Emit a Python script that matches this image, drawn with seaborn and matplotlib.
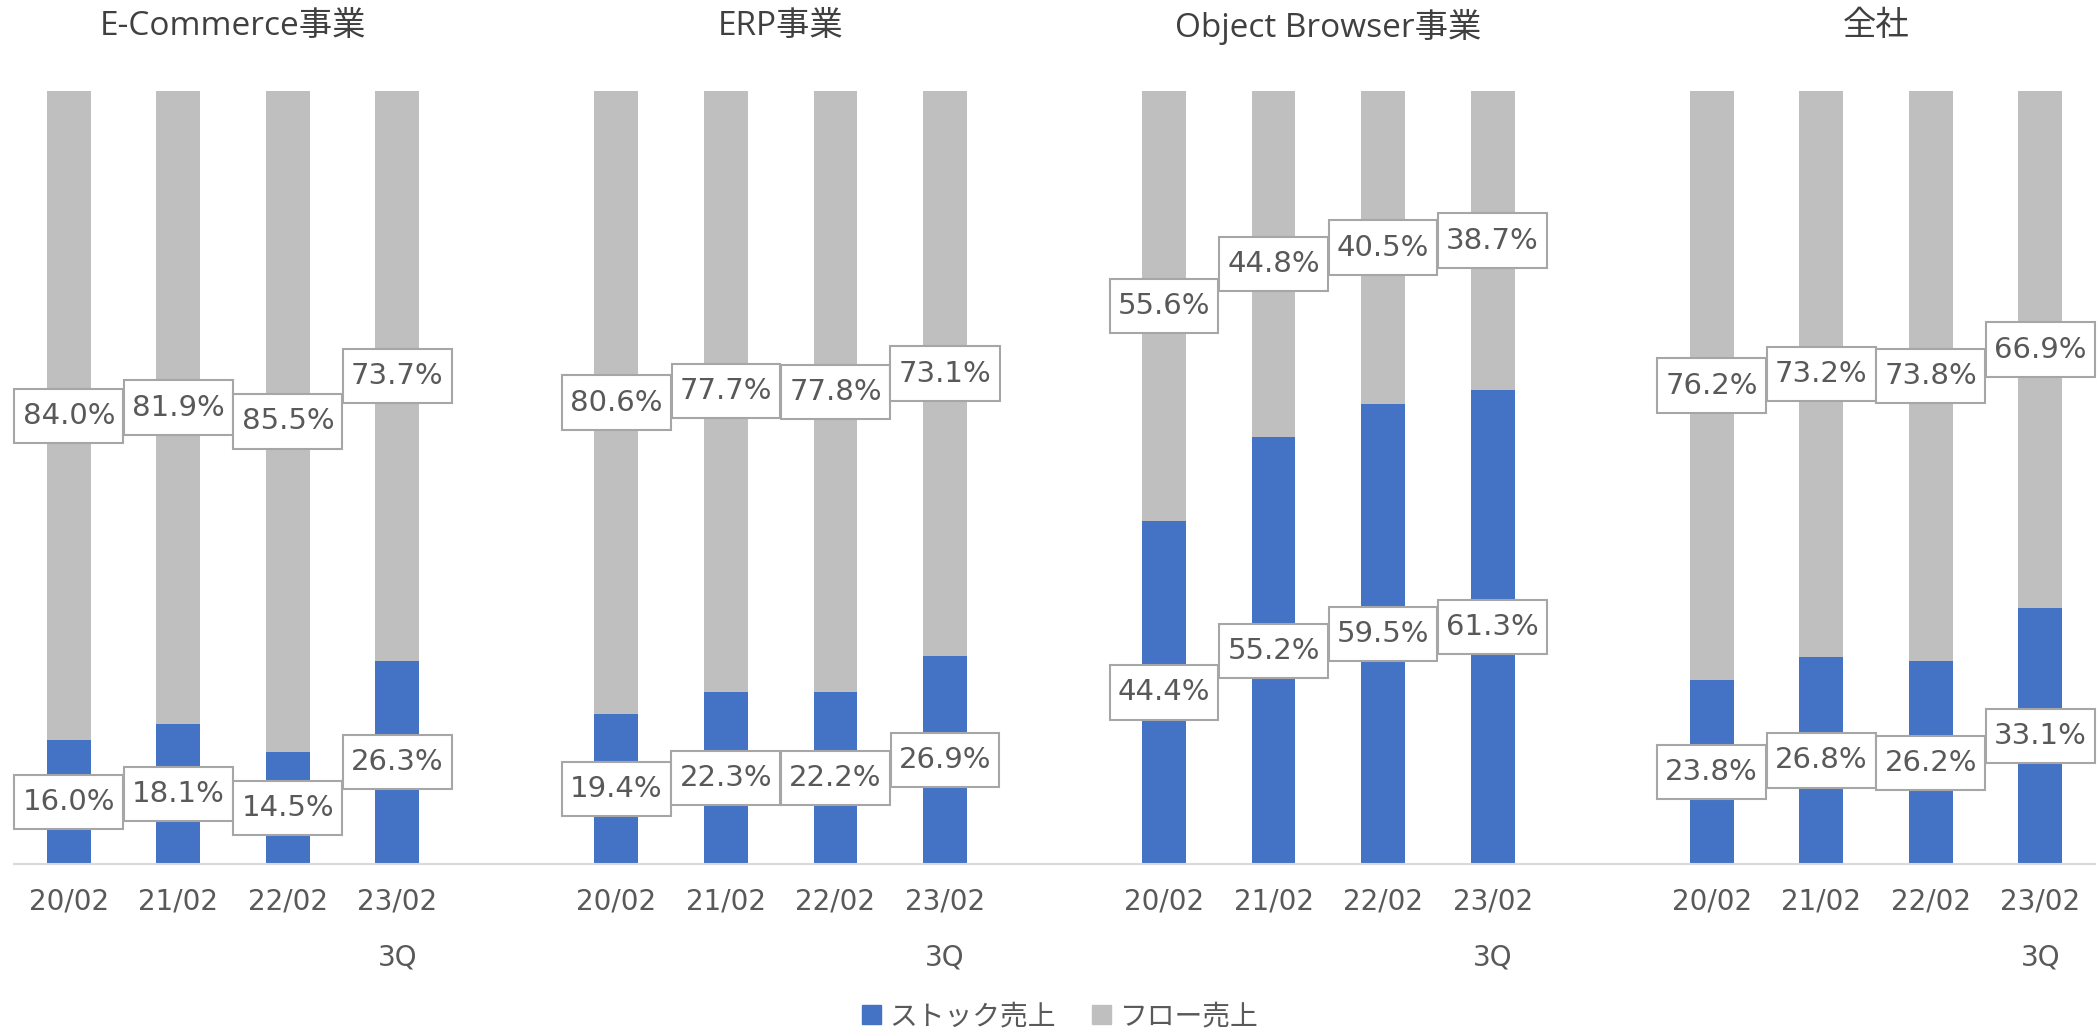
import matplotlib
matplotlib.use("Agg")
import matplotlib.pyplot as plt
import matplotlib.transforms as mtransforms
from matplotlib.patches import Patch
from matplotlib.path import Path
import seaborn as sns

# segment titles and periods
segments = ["E-Commerce事業", "ERP事業", "Object Browser事業", "全社"]
periods = ["20/02", "21/02", "22/02", "23/02\n3Q"]

# stock / flow revenue share (%)
ec_stock = [16.0, 18.1, 14.5, 26.3]
ec_flow = [84.0, 81.9, 85.5, 73.7]
erp_stock = [19.4, 22.3, 22.2, 26.9]
erp_flow = [80.6, 77.7, 77.8, 73.1]
ob_stock = [44.4, 55.2, 59.5, 61.3]
ob_flow = [55.6, 44.8, 40.5, 38.7]
all_stock = [23.8, 26.8, 26.2, 33.1]
all_flow = [76.2, 73.2, 73.8, 66.9]

legend_labels = ["ストック売上", "フロー売上"]

stock_data = [ec_stock, erp_stock, ob_stock, all_stock]
flow_data = [ec_flow, erp_flow, ob_flow, all_flow]

BLUE = "#4472C4"
GRAY = "#BFBFBF"
TEXT = "#595959"


def label_box(x0, y0, width, height, mutation_size):
    # rectangle with more padding top/bottom than left/right
    px = 0.28 * mutation_size
    py = 0.45 * mutation_size
    x0, y0 = x0 - px, y0 - py
    x1, y1 = x0 + width + 2 * px, y0 + height + 2 * py
    return Path([(x0, y0), (x1, y0), (x1, y1), (x0, y1), (x0, y0)], closed=True)


sns.set_style("white")
plt.rcParams["font.family"] = ["DejaVu Sans", "Noto Sans CJK JP"]

W, H = 2098, 1029
fig = plt.figure(figsize=(W / 100, H / 100), dpi=100)
gs = fig.add_gridspec(1, 4, width_ratios=[4.5, 5, 5, 4.5],
                      left=14 / W, right=2095 / W,
                      bottom=1 - 864 / H, top=1 - 91 / H, wspace=0)

xlims = [(-0.5, 4.0), (-1.0, 4.0), (-1.0, 4.0), (-1.0, 3.5)]

for i, (title, stock, flow) in enumerate(zip(segments, stock_data, flow_data)):
    ax = fig.add_subplot(gs[0, i])
    total = [s + f for s, f in zip(stock, flow)]
    sns.barplot(x=periods, y=total, color=GRAY, width=0.4, saturation=1,
                linewidth=0, ax=ax)
    sns.barplot(x=periods, y=stock, color=BLUE, width=0.4, saturation=1,
                linewidth=0, ax=ax)
    ax.set_xlim(*xlims[i])
    ax.set_ylim(0, 100)
    ax.set_yticks([])
    ax.set_xlabel("")
    ax.set_ylabel("")
    for side in ["left", "right", "top"]:
        ax.spines[side].set_visible(False)
    ax.spines["bottom"].set_color("#D9D9D9")
    ax.spines["bottom"].set_linewidth(1.5)
    ax.tick_params(axis="x", length=0, pad=17, labelsize=20, labelcolor=TEXT)
    for lbl in ax.get_xticklabels():
        lbl.set_linespacing(2.25)

    box = dict(boxstyle=label_box, fc="white", ec="#A6A6A6", lw=1.5)
    for j in range(len(periods)):
        ax.text(j, stock[j] / 2, f"{stock[j]:.1f}%", ha="center", va="center",
                fontsize=21, color=TEXT, bbox=box, zorder=5)
        ax.text(j, stock[j] + flow[j] / 2, f"{flow[j]:.1f}%", ha="center",
                va="center", fontsize=21, color=TEXT, bbox=box, zorder=5)

    trans = mtransforms.blended_transform_factory(ax.transData, fig.transFigure)
    ax.text((len(periods) - 1) / 2, 1 - 27 / H, title, transform=trans,
            ha="center", va="center", fontsize=24, color="#404040",
            family=["Open Sans", "Noto Sans CJK JP"])

handles = [Patch(color=BLUE), Patch(color=GRAY)]
fig.legend(handles, legend_labels, loc="center",
           bbox_to_anchor=(1060 / W, 1 - 1016 / H), ncol=2, frameon=False,
           handlelength=0.7, handleheight=0.7, handletextpad=0.3,
           columnspacing=1.3, labelcolor=TEXT,
           prop={"family": ["Noto Sans CJK JP"], "size": 20})

fig.savefig("out.png", dpi=100)
